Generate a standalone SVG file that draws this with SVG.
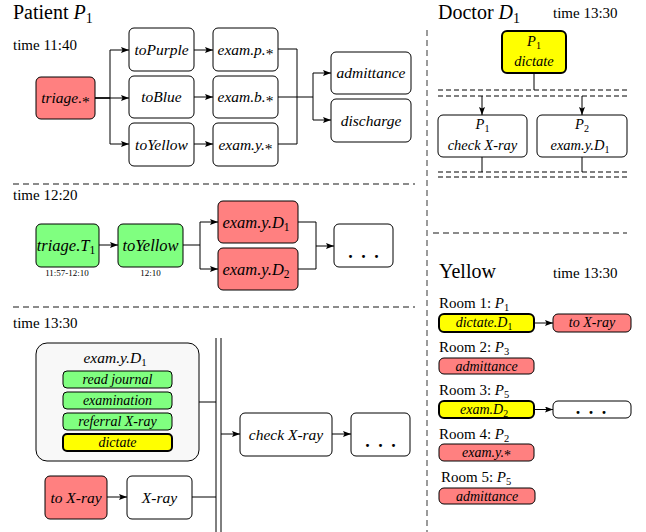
<svg xmlns="http://www.w3.org/2000/svg" width="646" height="532" viewBox="0 0 646 532">
<style>
.n{fill:#fff;stroke:#000;stroke-width:1}
.r{fill:#ff8080;stroke:#000;stroke-width:1}
.g{fill:#80ff80;stroke:#000;stroke-width:1}
.y{fill:#ffff00;stroke:#000;stroke-width:2}
.big{fill:#f8f8f8;stroke:#000;stroke-width:1}
text{font-family:"Liberation Serif","Times New Roman",serif;fill:#000}
.t{font-style:italic;font-size:15.5px;text-anchor:middle}
.t2{font-style:italic;font-size:16.5px;text-anchor:middle}
.t3{font-style:italic;font-size:14.5px;text-anchor:middle}
.s{font-style:italic;font-size:14px;text-anchor:middle}
.h{font-size:20px}
.tm{font-size:15px}
.rm{font-size:15px}
.sm{font-size:9px;text-anchor:middle}
.d{font-size:18px;text-anchor:middle;font-weight:bold;letter-spacing:2px}
.u{font-style:normal;font-size:0.7em}
.k{font-style:normal}
.c{fill:none;stroke:#000;stroke-width:1}
.sep{fill:none;stroke:#666;stroke-width:1.3;stroke-dasharray:6,4}
.bd{fill:none;stroke:#000;stroke-width:1;stroke-dasharray:5,3}
</style>
<defs>
<marker id="a" viewBox="0 0 8 6" refX="8" refY="3" markerWidth="8" markerHeight="6" orient="auto" markerUnits="userSpaceOnUse">
<path d="M0,0 L8,3 L0,6 L1.5,3 z" fill="#000"/>
</marker>
</defs>

<g id="labels">
<text class="h" x="13" y="19">Patient <tspan font-style="italic">P</tspan><tspan class="u" dy="4">1</tspan></text>
<text class="tm" x="13" y="50">time 11:40</text>
<text class="tm" x="13" y="200">time 12:20</text>
<text class="tm" x="13" y="328">time 13:30</text>
<text class="h" x="438" y="19">Doctor <tspan font-style="italic">D</tspan><tspan class="u" dy="4">1</tspan></text>
<text class="tm" x="553" y="18">time 13:30</text>
<text class="h" x="439" y="278">Yellow</text>
<text class="tm" x="553" y="278">time 13:30</text>
<text class="rm" x="439" y="308">Room 1: <tspan font-style="italic">P</tspan><tspan class="u" dy="3">1</tspan></text>
<text class="rm" x="439" y="352">Room 2: <tspan font-style="italic">P</tspan><tspan class="u" dy="3">3</tspan></text>
<text class="rm" x="439" y="395">Room 3: <tspan font-style="italic">P</tspan><tspan class="u" dy="3">5</tspan></text>
<text class="rm" x="439" y="439">Room 4: <tspan font-style="italic">P</tspan><tspan class="u" dy="3">2</tspan></text>
<text class="rm" x="441" y="482">Room 5: <tspan font-style="italic">P</tspan><tspan class="u" dy="3">5</tspan></text>
</g>

<g id="separators">
<path class="sep" d="M13,184 H415"/>
<path class="sep" d="M13,307 H415"/>
<path class="sep" d="M427,30 V532"/>
<path class="sep" d="M433,233 H627"/>
</g>

<g id="connectors">
<path class="c" d="M95,98 H110 V50 H129" marker-end="url(#a)"/>
<path class="c" d="M95,98 H129" marker-end="url(#a)"/>
<path class="c" d="M95,98 H110 V144 H129" marker-end="url(#a)"/>
<path class="c" d="M194,50 H213" marker-end="url(#a)"/>
<path class="c" d="M194,97 H213" marker-end="url(#a)"/>
<path class="c" d="M194,144 H213" marker-end="url(#a)"/>
<path class="c" d="M278,49 H297 V144 H278"/>
<path class="c" d="M278,97 H313 V73 H331" marker-end="url(#a)"/>
<path class="c" d="M313,97 V120 H331" marker-end="url(#a)"/>
<path class="c" d="M99,245 H118" marker-end="url(#a)"/>
<path class="c" d="M183,245 H200 V222 H218" marker-end="url(#a)"/>
<path class="c" d="M200,245 V269 H218" marker-end="url(#a)"/>
<path class="c" d="M298,222 H316 V269 H298"/>
<path class="c" d="M316,246 H334" marker-end="url(#a)"/>
<path class="c" d="M199,402 H216"/>
<path class="c" d="M192,497 H216"/>
<path class="c" d="M107,497 H127" marker-end="url(#a)"/>
<path class="c" d="M216,338 V532 M221,338 V532" stroke-width="1.2"/>
<path class="c" d="M221,434 H240" marker-end="url(#a)"/>
<path class="c" d="M332,434 H351" marker-end="url(#a)"/>
<path class="c" d="M534,73 V90"/>
<path class="bd" d="M438,90 H627 M438,96 H627"/>
<path class="c" d="M482,96 V115" marker-end="url(#a)"/>
<path class="c" d="M582,96 V115" marker-end="url(#a)"/>
<path class="c" d="M482,157 V172 M582,157 V172"/>
<path class="bd" d="M438,172 H627 M438,177 H627"/>
<path class="c" d="M534,323 H553" marker-end="url(#a)"/>
<path class="c" d="M534,409.5 H553" marker-end="url(#a)"/>
</g>

<g id="triage"><rect class="r" x="36" y="77" width="59" height="42" rx="5"/><text class="t" x="65.5" y="103">triage.<tspan class="k" dy="4">*</tspan></text></g>
<g id="toPurple"><rect class="n" x="129" y="28" width="65" height="43" rx="5"/><text class="t" x="161.5" y="54.5">toPurple</text></g>
<g id="toBlue"><rect class="n" x="129" y="76" width="65" height="42" rx="5"/><text class="t" x="161.5" y="102">toBlue</text></g>
<g id="toYellow"><rect class="n" x="129" y="123" width="65" height="43" rx="5"/><text class="t" x="161.5" y="149.5">toYellow</text></g>
<g id="examP"><rect class="n" x="213" y="28" width="65" height="43" rx="5"/><text class="t" x="245.5" y="54.5">exam.p.<tspan class="k" dy="4">*</tspan></text></g>
<g id="examB"><rect class="n" x="213" y="76" width="65" height="42" rx="5"/><text class="t" x="245.5" y="102">exam.b.<tspan class="k" dy="4">*</tspan></text></g>
<g id="examY"><rect class="n" x="213" y="123" width="65" height="43" rx="5"/><text class="t" x="245.5" y="149.5">exam.y.<tspan class="k" dy="4">*</tspan></text></g>
<g id="admittance"><rect class="n" x="331" y="52" width="80" height="42" rx="5"/><text class="t" x="371" y="78">admittance</text></g>
<g id="discharge"><rect class="n" x="331" y="99" width="80" height="43" rx="5"/><text class="t" x="371" y="125.5">discharge</text></g>

<g id="triageT1"><rect class="g" x="36" y="224" width="63" height="43" rx="5"/><text class="t2" x="66" y="251">triage.T<tspan class="u" dy="3">1</tspan></text><text class="sm" x="67" y="276">11:57-12:10</text></g>
<g id="toYellow2"><rect class="g" x="118" y="224" width="65" height="43" rx="5"/><text class="t2" x="150.5" y="251">toYellow</text><text class="sm" x="150.5" y="276">12:10</text></g>
<g id="examYD1"><rect class="r" x="218" y="201" width="80" height="42" rx="5"/><text class="t2" x="256" y="228">exam.y.D<tspan class="u" dy="3">1</tspan></text></g>
<g id="examYD2"><rect class="r" x="218" y="248" width="80" height="42" rx="5"/><text class="t2" x="256" y="275">exam.y.D<tspan class="u" dy="3">2</tspan></text></g>
<g id="dots1"><rect class="n" x="334" y="224" width="59" height="43" rx="5"/><text class="d" x="364.5" y="258">. . .</text></g>

<g id="examYD1big"><rect class="big" x="36" y="343" width="163" height="118" rx="11"/><text class="t" x="115" y="363">exam.y.D<tspan class="u" dy="3">1</tspan></text>
<rect class="g" x="63" y="371" width="109" height="17" rx="4"/><text class="s" x="117.5" y="384">read journal</text>
<rect class="g" x="63" y="392" width="109" height="17" rx="4"/><text class="s" x="117.5" y="405">examination</text>
<rect class="g" x="63" y="413" width="109" height="17" rx="4"/><text class="s" x="117.5" y="426">referral X-ray</text>
<rect class="y" x="63" y="434" width="109" height="17" rx="4"/><text class="s" x="117.5" y="447">dictate</text></g>
<g id="toXray"><rect class="r" x="45" y="476" width="62" height="43" rx="5"/><text class="t" x="76" y="502.5">to X-ray</text></g>
<g id="xray"><rect class="n" x="127" y="476" width="65" height="43" rx="5"/><text class="t" x="159.5" y="502.5">X-ray</text></g>
<g id="checkXray"><rect class="n" x="240" y="413" width="92" height="43" rx="5"/><text class="t" x="286" y="439.5">check X-ray</text></g>
<g id="dots2"><rect class="n" x="351" y="413" width="59" height="43" rx="5"/><text class="d" x="381.5" y="447">. . .</text></g>

<g id="docDictate"><rect class="y" x="502" y="31" width="64" height="42" rx="5"/><text class="t3" x="534" y="46">P<tspan class="u" dy="3">1</tspan></text><text class="t3" x="534" y="66">dictate</text></g>
<g id="docCheck"><rect class="n" x="438" y="115" width="89" height="42" rx="5"/><text class="t3" x="482.5" y="129">P<tspan class="u" dy="3">1</tspan></text><text class="t3" x="482.5" y="150">check X-ray</text></g>
<g id="docExam"><rect class="n" x="537" y="115" width="90" height="42" rx="5"/><text class="t3" x="582" y="129">P<tspan class="u" dy="3">2</tspan></text><text class="t3" x="580" y="150">exam.y.D<tspan class="u" dy="3">1</tspan></text></g>

<g id="room1a"><rect class="y" x="439" y="314" width="95" height="18" rx="5"/><text class="s" x="484" y="327">dictate.D<tspan class="u" dy="3">1</tspan></text></g>
<g id="room1b"><rect class="r" x="553" y="314" width="78" height="18" rx="5"/><text class="s" x="592" y="327">to X-ray</text></g>
<g id="room2"><rect class="r" x="439" y="358" width="95" height="16" rx="5"/><text class="s" x="486.5" y="371">admittance</text></g>
<g id="room3a"><rect class="y" x="439" y="401" width="95" height="17" rx="5"/><text class="s" x="484" y="414">exam.D<tspan class="u" dy="3">2</tspan></text></g>
<g id="room3b"><rect class="n" x="553" y="401" width="78" height="17" rx="5"/><text class="d" x="592" y="414">. . .</text></g>
<g id="room4"><rect class="r" x="439" y="444" width="95" height="17" rx="5"/><text class="s" x="486.5" y="457">exam.y.<tspan class="k" dy="3">*</tspan></text></g>
<g id="room5"><rect class="r" x="439" y="488" width="96" height="16" rx="5"/><text class="s" x="487" y="501">admittance</text></g>
</svg>
